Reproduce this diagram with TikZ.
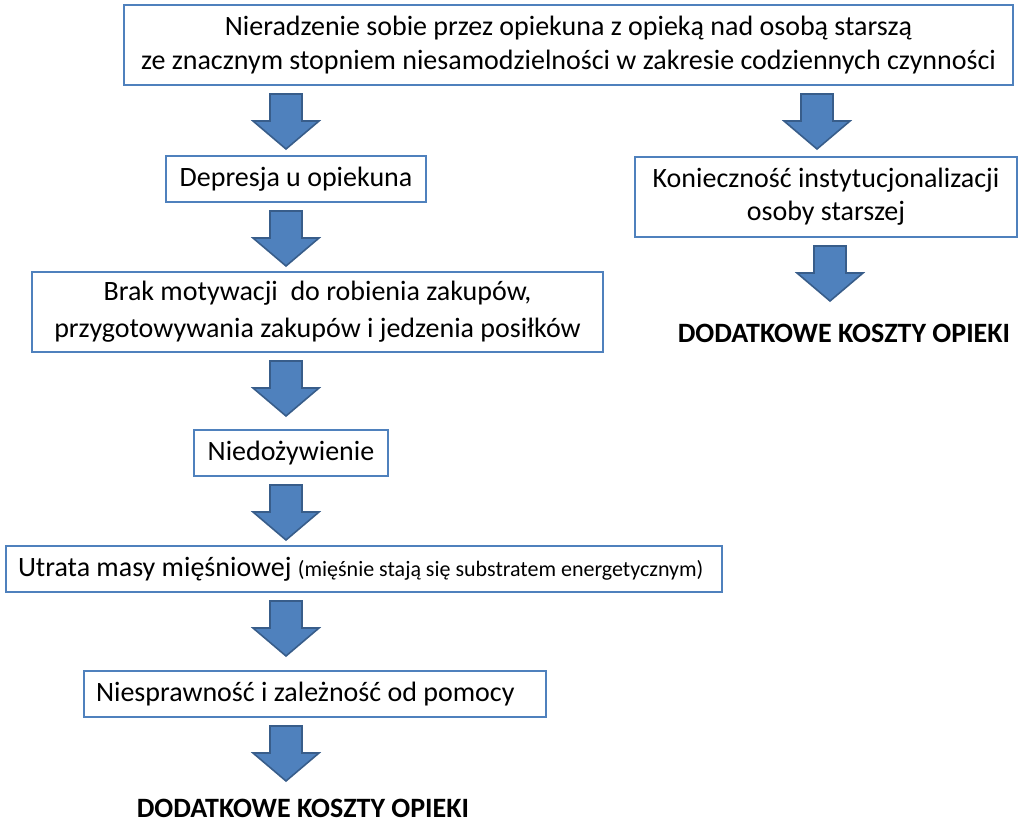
\documentclass[tikz,border=0pt]{standalone}
\usepackage{fontspec}
\setmainfont{Carlito}
\usetikzlibrary{calc}
\definecolor{boxBlue}{RGB}{79,129,189}
\definecolor{arrowEdge}{RGB}{56,93,138}
\tikzset{
  box/.style={draw=boxBlue, line width=1.5pt, fill=white, align=center, inner sep=0pt},
  downarrow/.pic={
    \filldraw[fill=boxBlue, draw=arrowEdge, line width=1.2pt, line join=miter]
      (-16,0) -- (16,0) -- (16,27) -- (33,27) -- (0,55) -- (-33,27) -- (-16,27) -- cycle;
  }
}
\begin{document}
\begin{tikzpicture}[x=0.75pt, y=-0.75pt, font=\fontsize{21}{25}\selectfont]
    \useasboundingbox (0,0) rectangle (1020,824);
    \coordinate (L) at (286,0);
    \coordinate (R) at (817,0);
    \coordinate (RR) at (830,0);
    \node[box, minimum width=666.75pt, minimum height=60pt] (top) at (568.5,45)
      {Nieradzenie sobie przez opiekuna z opieką nad osobą starszą\\
       ze znacznym stopniem niesamodzielności w zakresie codziennych czynności};
    \node[box, minimum width=195pt, minimum height=34.5pt] (dep) at (296,179) {Depresja u opiekuna};
    \node[box, minimum width=286.5pt, minimum height=60pt] (kon) at (826,197)
      {Konieczność instytucjonalizacji\\ osoby starszej};
    \node[box, minimum width=428.25pt, minimum height=60pt, font=\fontsize{21}{27.5}\selectfont] (brak) at (317.5,312)
      {Brak motywacji\ \ do robienia zakupów,\\ przygotowywania zakupów i jedzenia posiłków};
    \node[box, minimum width=145.5pt, minimum height=34.5pt] (nied) at (291,453) {Niedożywienie};
    \node[box, align=flush left, inner xsep=9pt, text width=519pt, minimum height=34.5pt] (utr) at (364,569)
      {Utrata masy mięśniowej {\fontsize{16.5}{18}\selectfont(mięśnie stają się substratem energetycznym)}};
    \node[box, align=flush left, inner xsep=9pt, text width=328.5pt, minimum height=34.5pt] (nies) at (315,694)
      {Niesprawność i zależność od pomocy};
    \node[font=\fontsize{21}{25}\selectfont\bfseries] (kosztR) at (844,333) {DODATKOWE KOSZTY OPIEKI};
    \node[font=\fontsize{21}{25}\selectfont\bfseries] (kosztL) at (303,808) {DODATKOWE KOSZTY OPIEKI};
    \foreach \src/\col in {top/L,dep/L,brak/L,nied/L,utr/L,nies/L,top/R,kon/RR} {
       \pic at ($(\src.south -| \col)+(0,8)$) {downarrow};
     }
\end{tikzpicture}
\end{document}
